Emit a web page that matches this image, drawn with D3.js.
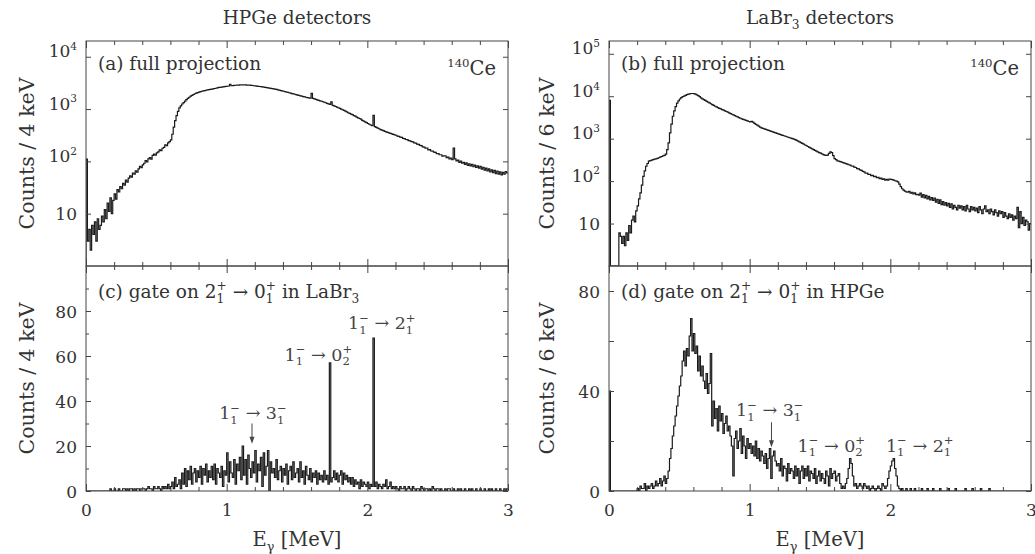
<!DOCTYPE html>
<html>
<head>
<meta charset="utf-8">
<script src="https://cdn.jsdelivr.net/npm/d3@7"></script>
<style>
  body { margin: 0; background: #fff; }
</style>
</head>
<body>
<div id="chart"></div>
<script>
// Energy axis, MeV
const energyMajor = [0, 1, 2, 3];
const energyMinor = [0.2, 0.4, 0.6, 0.8, 1.2, 1.4, 1.6, 1.8, 2.2, 2.4, 2.6, 2.8];

// all spectra below are read with one value per 10 keV
const binWidth = 0.01;

// (a) HPGe full projection, counts / 4 keV
const hpgeFull = [
  110, 3, 5, 2, 6, 4, 7, 3, 8, 5,
  6, 9, 7, 12, 8, 16, 11, 20, 10, 18,
  24, 19, 29, 26, 33, 30, 38, 35, 44, 40,
  48, 53, 50, 60, 57, 66, 62, 72, 80, 76,
  86, 92, 104, 98, 112, 118, 110, 130, 138, 132,
  145, 152, 166, 160, 178, 185, 208, 200, 225, 238,
  257, 330, 450, 600, 750, 900, 1050, 1150, 1250, 1330,
  1420, 1510, 1600, 1680, 1760, 1830, 1900, 1960, 2020, 2070,
  2110, 2150, 2190, 2230, 2260, 2290, 2320, 2350, 2380, 2410,
  2440, 2470, 2500, 2540, 2600, 2590, 2630, 2660, 2690, 2710,
  2730, 2760, 2980, 2790, 2810, 2830, 2850, 2860, 2880, 2890,
  2900, 2910, 2890, 2900, 2880, 2870, 2860, 2840, 2820, 2790,
  2770, 2750, 2720, 2700, 2680, 2650, 2630, 2600, 2570, 2540,
  2520, 2490, 2460, 2430, 2400, 2370, 2330, 2300, 2260, 2230,
  2190, 2150, 2120, 2080, 2050, 2010, 1980, 1950, 1920, 1880,
  1850, 1820, 1790, 1760, 1730, 1710, 1680, 1660, 1640, 1620,
  2000, 1600, 1560, 1530, 1500, 1470, 1440, 1410, 1380, 1350,
  1320, 1290, 1260, 1230, 1380, 1180, 1150, 1120, 1090, 1060,
  1030, 1000, 970, 940, 910, 880, 850, 830, 800, 780,
  750, 730, 700, 680, 660, 640, 610, 590, 570, 550,
  530, 512, 496, 480, 760, 462, 448, 434, 420, 406,
  396, 386, 376, 366, 358, 350, 342, 335, 328, 321,
  316, 304, 301, 290, 287, 276, 273, 262, 260, 250,
  246, 238, 236, 226, 224, 214, 212, 202, 200, 190,
  188, 178, 179, 166, 168, 158, 157, 150, 149, 140,
  141, 134, 134, 126, 128, 127, 118, 121, 112, 116,
  108, 180, 112, 102, 106, 96, 101, 92, 96, 88,
  94, 84, 90, 82, 88, 79, 85, 77, 82, 74,
  80, 71, 77, 68, 74, 66, 72, 63, 69, 61,
  67, 58, 65, 57, 63, 55, 62, 57, 64, 60
];

// (b) LaBr3 full projection, counts / 6 keV
const labrFull = [
  8000, 0, 0, 0, 0, 0, 0, 6, 5, 3.4,
  5, 3, 6, 4, 9, 6, 12, 15, 11, 20,
  26, 38, 53, 80, 130, 175, 224, 260, 295, 305,
  312, 320, 328, 335, 345, 355, 368, 380, 392, 405,
  430, 550, 800, 1370, 2200, 3370, 4500, 5700, 6900, 7800,
  8600, 9300, 9800, 10000, 10500, 10900, 11200, 11400, 11600, 11600,
  11500, 11200, 10800, 10300, 9800, 9100, 8700, 8320, 7950, 7600,
  7270, 6950, 6640, 6350, 6070, 5800, 5600, 5400, 5200, 5030,
  4850, 4680, 4520, 4360, 4200, 4050, 3905, 3765, 3630, 3500,
  3375, 3255, 3140, 3030, 2920, 2850, 2780, 2700, 2620, 2540,
  2480, 2560, 2440, 2300, 2180, 2080, 1980, 1880, 1790, 1743,
  1697, 1652, 1608, 1566, 1525, 1485, 1445, 1407, 1370, 1335,
  1300, 1265, 1233, 1200, 1170, 1140, 1110, 1080, 1052, 1025,
  1000, 975, 950, 911, 874, 838, 804, 771, 740, 710,
  681, 653, 626, 601, 576, 553, 530, 508, 488, 470,
  455, 438, 420, 410, 402, 410, 450, 490, 470, 400,
  340, 320, 300, 295, 288, 280, 272, 264, 257, 250,
  243, 238, 227, 225, 213, 209, 197, 194, 183, 180,
  169, 165, 153, 154, 144, 145, 135, 137, 127, 130,
  120, 123, 114, 117, 109, 113, 105, 110, 106, 112,
  110, 108, 105, 102, 100, 96, 85, 74, 66, 61,
  58, 56, 55, 57, 52, 54, 50, 53, 48, 49,
  47, 52, 42, 48, 40, 46, 38, 44, 36, 41,
  35, 40, 32, 37, 30, 36, 28, 33, 27, 31,
  26, 30, 24, 29, 22, 27, 24, 21, 27, 23,
  26, 21, 25, 20, 27, 22, 19, 25, 21, 24,
  20, 23, 18, 25, 21, 17, 22, 26, 19, 21,
  17, 22, 19, 16, 21, 18, 15, 20, 17, 19,
  14, 18, 15, 13, 17, 14, 16, 12, 15, 13,
  24, 8, 19, 10, 14, 9, 12, 11, 7, 10
];

// (c) HPGe, gate on 2+ -> 0+ in LaBr3, counts / 4 keV
const hpgeGated = [
  0, 0, 0, 0, 0, 0, 0, 0, 0, 0,
  0, 0, 0, 0, 0, 0, 0, 1, 0, 0,
  1, 0, 0, 1, 0, 0, 1, 1, 0, 1,
  0, 1, 1, 0, 1, 0, 1, 1, 0, 1,
  1, 1, 0, 1, 2, 1, 1, 0, 2, 1,
  1, 2, 1, 0, 2, 1, 2, 1, 3, 1,
  2, 4, 1, 6, 2, 3, 5, 1, 8, 3,
  10, 2, 9, 5, 11, 3, 8, 10, 4, 9,
  6, 11, 3, 10, 7, 12, 4, 9, 6, 11,
  5, 12, 3, 10, 8, 6, 11, 2, 9, 7,
  17, 4, 13, 8, 6, 14, 3, 12, 9, 15,
  5, 20, 7, 14, 3, 16, 10, 6, 13, 8,
  18, 4, 12, 9, 15, 2, 17, 7, 11, 18,
  0, 13, 8, 10, 6, 14, 5, 9, 11, 4,
  10, 7, 12, 3, 9, 11, 5, 13, 6, 8,
  10, 4, 13, 6, 9, 3, 11, 7, 5, 10,
  4, 8, 6, 9, 3, 8, 5, 7, 4, 9,
  5, 7, 3, 57, 4, 6, 9, 5, 8, 4,
  7, 9, 3, 8, 5, 7, 4, 6, 3, 6,
  2, 5, 3, 4, 1, 5, 2, 4, 3, 2,
  4, 1, 3, 2, 68, 2, 4, 1, 3, 2,
  1, 3, 2, 5, 1, 2, 4, 1, 2, 1,
  2, 1, 0, 2, 1, 1, 2, 0, 1, 2,
  1, 0, 2, 1, 0, 1, 1, 0, 2, 1,
  0, 1, 1, 0, 1, 0, 2, 1, 0, 1,
  1, 0, 1, 0, 0, 1, 0, 1, 1, 0,
  0, 1, 0, 0, 1, 0, 1, 0, 0, 1,
  0, 0, 1, 0, 1, 0, 0, 1, 0, 0,
  1, 0, 0, 1, 0, 0, 1, 0, 1, 0,
  0, 1, 0, 0, 1, 0, 0, 1, 0, 1
];

// (d) LaBr3, gate on 2+ -> 0+ in HPGe, counts / 6 keV
const labrGated = [
  40, 0, 0, 0, 0, 0, 0, 0, 0, 0,
  0, 0, 0, 0, 0, 0, 0, 0, 0, 0,
  1, 0, 2, 1, 1, 3, 0, 2, 1, 2,
  3, 1, 2, 4, 2, 3, 5, 2, 4, 6,
  3, 5, 8, 13, 17, 22, 26, 30, 34, 38,
  42, 46, 52, 56, 50, 57, 54, 62, 69, 56,
  63, 55, 58, 48, 54, 46, 50, 44, 41, 47,
  39, 43, 55, 26, 36, 29, 33, 24, 34, 28,
  31, 23, 27, 30, 24, 26, 22, 18, 6, 21,
  24, 17, 20, 25, 15, 22, 18, 13, 21, 17,
  19, 15, 18, 14, 20, 13, 17, 12, 16, 14,
  11, 15, 9, 13, 17, 5, 14, 16, 12, 10,
  11, 8, 13, 6, 10, 9, 4, 11, 7, 9,
  8, 5, 10, 6, 9, 3, 8, 10, 5, 9,
  6, 10, 4, 8, 7, 5, 9, 3, 6, 8,
  4, 7, 5, 3, 8, 6, 2, 9, 5, 7,
  8, 4, 6, 7, 3, 1, 2, 1, 3, 5,
  9, 13, 11, 6, 2, 3, 1, 2, 3, 2,
  1, 3, 2, 1, 2, 0, 1, 2, 1, 0,
  1, 2, 1, 0, 3, 2, 1, 2, 5, 8,
  10, 12, 13, 9, 6, 2, 1, 0, 1, 0,
  0, 1, 0, 0, 1, 0, 0, 1, 0, 0,
  0, 0, 1, 0, 0, 0, 1, 0, 0, 0,
  1, 0, 0, 0, 0, 1, 0, 0, 0, 0,
  0, 1, 0, 0, 0, 0, 1, 0, 0, 0,
  0, 0, 0, 1, 0, 0, 0, 0, 1, 0,
  0, 0, 0, 0, 1, 0, 0, 0, 0, 0,
  1, 0, 0, 0, 0, 0, 0, 0, 0, 0,
  0, 0, 0, 0, 0, 0, 0, 0, 0, 0,
  0, 0, 0, 0, 0, 0, 0, 0, 0, 0
];

// transition labels, anchored at [energy MeV, counts]
const ann31 = [{ t: "1", sub: "1", sup: "\u2212" }, { t: " \u2192 " }, { t: "3", sub: "1", sup: "\u2212" }];
const ann02 = [{ t: "1", sub: "1", sup: "\u2212" }, { t: " \u2192 " }, { t: "0", sub: "2", sup: "+" }];
const ann21 = [{ t: "1", sub: "1", sup: "\u2212" }, { t: " \u2192 " }, { t: "2", sub: "1", sup: "+" }];

const hpgeLabels = [
  { e: 1.187, c: 32, parts: ann31 },
  { e: 1.652, c: 58, parts: ann02 },
  { e: 2.103, c: 72, parts: ann21 }
];
const labrLabels = [
  { e: 1.143, c: 30, parts: ann31 },
  { e: 1.58, c: 15.8, parts: ann02 },
  { e: 2.209, c: 15.8, parts: ann21 }
];
const hpgeArrows = [{ e: 1.18, from: 30, to: 21 }];
const labrArrows = [{ e: 1.155, from: 27.5, to: 17.5 }];

// ---------------------------------------------------------------

const width = 1035;
const height = 554;
const ink = "#1a1a1a";
const textInk = "#333";
const serif = "'DejaVu Serif', 'Liberation Serif', 'Times New Roman', serif";

const svg = d3
  .select("#chart")
  .append("svg")
  .attr("width", width)
  .attr("height", height)
  .attr("font-family", serif)
  .style("display", "block");

// Text with stacked sub/superscripts
function rich(sel, parts, size, ratio = 0.66) {
  const small = Math.round(size * ratio * 10) / 10;
  let cur = 0;
  let pend = 0;
  const add = (txt, fs, off, dx) => {
    const ts = sel
      .append("tspan")
      .attr("font-family", serif)
      .attr("font-size", fs)
      .attr("dy", off - cur)
      .text(txt);
    if (dx || pend) ts.attr("dx", (dx || 0) + pend);
    pend = 0;
    cur = off;
    return ts;
  };
  parts.forEach((p) => {
    if (p.t) add(p.t, size, 0);
    if (p.sub && p.sup) {
      const a = add(p.sub, small, size * 0.28);
      const w1 = a.node().getComputedTextLength();
      const b = add(p.sup, small, -size * 0.42, -w1);
      const w2 = b.node().getComputedTextLength();
      if (w1 > w2) pend = w1 - w2;
    } else if (p.sub) {
      add(p.sub, small, size * 0.28);
    } else if (p.sup) {
      add(p.sup, small, -size * 0.42);
    }
  });
}

let clipId = 0;

function drawPanel(o) {
  const x = d3.scaleLinear().domain([0, 3]).range(o.xr);
  const y = (o.log ? d3.scaleLog() : d3.scaleLinear()).domain(o.domain).range([o.yr[1], o.yr[0]]);
  const floor = o.domain[0];

  const g = svg.append("g");

  // histogram
  const id = "clip" + clipId++;
  svg
    .append("clipPath")
    .attr("id", id)
    .append("rect")
    .attr("x", o.xr[0])
    .attr("y", o.yr[0])
    .attr("width", o.xr[1] - o.xr[0])
    .attr("height", o.yr[1] - o.yr[0]);

  const pts = [[0, floor]].concat(o.counts.map((c, i) => [i * binWidth, c]));
  pts.push([3, o.counts[o.counts.length - 1]]);

  const line = d3
    .line()
    .x((d) => x(d[0]))
    .y((d) => y(Math.max(d[1], floor)))
    .curve(d3.curveStepAfter);

  g.append("path")
    .attr("clip-path", `url(#${id})`)
    .attr("d", line(pts))
    .attr("fill", "none")
    .attr("stroke", ink)
    .attr("stroke-width", 1.2)
    .attr("stroke-linejoin", "miter");

  // ticks, all pointing inward
  const tickAxis = (axis, tr) => {
    const a = g.append("g").attr("transform", tr).call(axis);
    a.attr("font-family", null).attr("font-size", null);
    a.select(".domain").remove();
    a.selectAll(".tick line").attr("stroke", "#444");
    return a;
  };
  const bareTicks = (axis, tr) => tickAxis(axis, tr).selectAll(".tick text").remove();

  [[d3.axisBottom, o.yr[1]], [d3.axisTop, o.yr[0]]].forEach(([ax, yy]) => {
    bareTicks(ax(x).tickValues(energyMinor).tickSize(-4), `translate(0,${yy})`);
    bareTicks(ax(x).tickValues(energyMajor).tickSize(-7), `translate(0,${yy})`);
  });

  bareTicks(d3.axisRight(y).tickValues(o.yTicks).tickSize(-5), `translate(${o.xr[1]},0)`);
  if (o.yMinor) {
    bareTicks(d3.axisRight(y).tickValues(o.yMinor).tickSize(-3), `translate(${o.xr[1]},0)`);
    bareTicks(d3.axisLeft(y).tickValues(o.yMinor).tickSize(-3), `translate(${o.xr[0]},0)`);
  }

  const left = tickAxis(
    d3.axisLeft(y).tickValues(o.yTicks).tickSize(-5).tickPadding(9),
    `translate(${o.xr[0]},0)`
  );
  left
    .selectAll(".tick text")
    .attr("font-size", 17)
    .attr("fill", textInk)
    .attr("dy", "0.36em")
    .each(function (d) {
      const t = d3.select(this);
      t.text(null);
      if (!o.yLabels.includes(d)) return;
      if (o.log && d > 10) rich(t, [{ t: "10" }, { sup: String(Math.round(Math.log10(d))) }], 17, 0.62);
      else t.text(String(d));
    });
  left.selectAll(".tick text").filter(function () { return !this.textContent; }).remove();

  if (o.showX) {
    const bx = tickAxis(
      d3.axisBottom(x).tickValues(energyMajor).tickSize(0).tickPadding(13).tickFormat(d3.format("d")),
      `translate(0,${o.yr[1]})`
    );
    bx.selectAll(".tick text").attr("font-size", 17).attr("fill", textInk);

    const xl = g
      .append("text")
      .attr("x", (o.xr[0] + o.xr[1]) / 2)
      .attr("y", 546)
      .attr("text-anchor", "middle")
      .attr("fill", textInk);
    rich(xl, [{ t: "E", sub: "\u03b3" }, { t: " [MeV]" }], 19.5);
  }

  // frame
  g.append("rect")
    .attr("x", o.xr[0])
    .attr("y", o.yr[0])
    .attr("width", o.xr[1] - o.xr[0])
    .attr("height", o.yr[1] - o.yr[0])
    .attr("fill", "none")
    .attr("stroke", "#444")
    .attr("stroke-width", 1);

  // y title
  g.append("text")
    .attr("transform", `translate(${o.xr[0] - o.ylabelGap},${(o.yr[0] + o.yr[1]) / 2}) rotate(-90)`)
    .attr("text-anchor", "middle")
    .attr("font-size", 20.5)
    .attr("fill", textInk)
    .text(o.ylabel);

  // panel label
  const pl = g
    .append("text")
    .attr("x", o.xr[0] + 12)
    .attr("y", o.yr[0] + o.labelDy)
    .attr("fill", textInk);
  rich(pl, o.label, 18.5);

  if (o.nucleus) {
    const nu = g
      .append("text")
      .attr("x", o.xr[1] - 12)
      .attr("y", o.yr[0] + 34)
      .attr("text-anchor", "end")
      .attr("fill", textInk);
    rich(nu, [{ sup: "140" }, { t: "Ce" }], 19.5, 0.6);
  }

  (o.labels || []).forEach((a) => {
    const t = g
      .append("text")
      .attr("x", x(a.e))
      .attr("y", y(a.c))
      .attr("text-anchor", "middle")
      .attr("fill", "#444");
    rich(t, a.parts, 17.5);
  });

  (o.arrows || []).forEach((a) => {
    const ax = x(a.e);
    const yt = y(a.to);
    g.append("line")
      .attr("x1", ax)
      .attr("x2", ax)
      .attr("y1", y(a.from))
      .attr("y2", yt - 4)
      .attr("stroke", "#444")
      .attr("stroke-width", 1);
    g.append("path")
      .attr("d", `M${ax - 2.5},${yt - 7}L${ax},${yt}L${ax + 2.5},${yt - 7}Z`)
      .attr("fill", "#444");
  });
}

const xLeft = [86, 508];
const xRight = [609, 1031];
const yTop = [41, 266];
const yBottom = [266, 491];

drawPanel({
  xr: xLeft, yr: yTop, log: true, domain: [1, 20000],
  counts: hpgeFull,
  yTicks: [10, 100, 1000, 10000], yLabels: [10, 100, 1000, 10000],
  ylabel: "Counts / 4 keV", ylabelGap: 52, labelDy: 29, nucleus: true,
  label: [{ t: "(a) full projection" }]
});

drawPanel({
  xr: xRight, yr: yTop, log: true, domain: [1, 200000],
  counts: labrFull,
  yTicks: [10, 100, 1000, 10000, 100000], yLabels: [10, 100, 1000, 10000, 100000],
  ylabel: "Counts / 6 keV", ylabelGap: 55, labelDy: 29, nucleus: true,
  label: [{ t: "(b) full projection" }]
});

drawPanel({
  xr: xLeft, yr: yBottom, log: false, domain: [0, 100],
  counts: hpgeGated,
  yTicks: [0, 20, 40, 60, 80], yMinor: [10, 30, 50, 70, 90], yLabels: [0, 20, 40, 60, 80],
  ylabel: "Counts / 4 keV", ylabelGap: 52, labelDy: 32, showX: true,
  label: [{ t: "(c) gate on " }, { t: "2", sub: "1", sup: "+" }, { t: " \u2192 " }, { t: "0", sub: "1", sup: "+" }, { t: " in LaBr" }, { sub: "3" }],
  labels: hpgeLabels, arrows: hpgeArrows
});

drawPanel({
  xr: xRight, yr: yBottom, log: false, domain: [0, 90],
  counts: labrGated,
  yTicks: [0, 20, 40, 60, 80], yLabels: [0, 40, 80],
  ylabel: "Counts / 6 keV", ylabelGap: 55, labelDy: 32, showX: true,
  label: [{ t: "(d) gate on " }, { t: "2", sub: "1", sup: "+" }, { t: " \u2192 " }, { t: "0", sub: "1", sup: "+" }, { t: " in HPGe" }],
  labels: labrLabels, arrows: labrArrows
});

// column titles
const t1 = svg.append("text")
  .attr("x", (xLeft[0] + xLeft[1]) / 2)
  .attr("y", 24)
  .attr("text-anchor", "middle")
  .attr("fill", textInk);
rich(t1, [{ t: "HPGe detectors" }], 18.5);

const t2 = svg.append("text")
  .attr("x", (xRight[0] + xRight[1]) / 2)
  .attr("y", 24)
  .attr("text-anchor", "middle")
  .attr("fill", textInk);
rich(t2, [{ t: "LaBr" }, { sub: "3" }, { t: " detectors" }], 18.5);
</script>
</body>
</html>
